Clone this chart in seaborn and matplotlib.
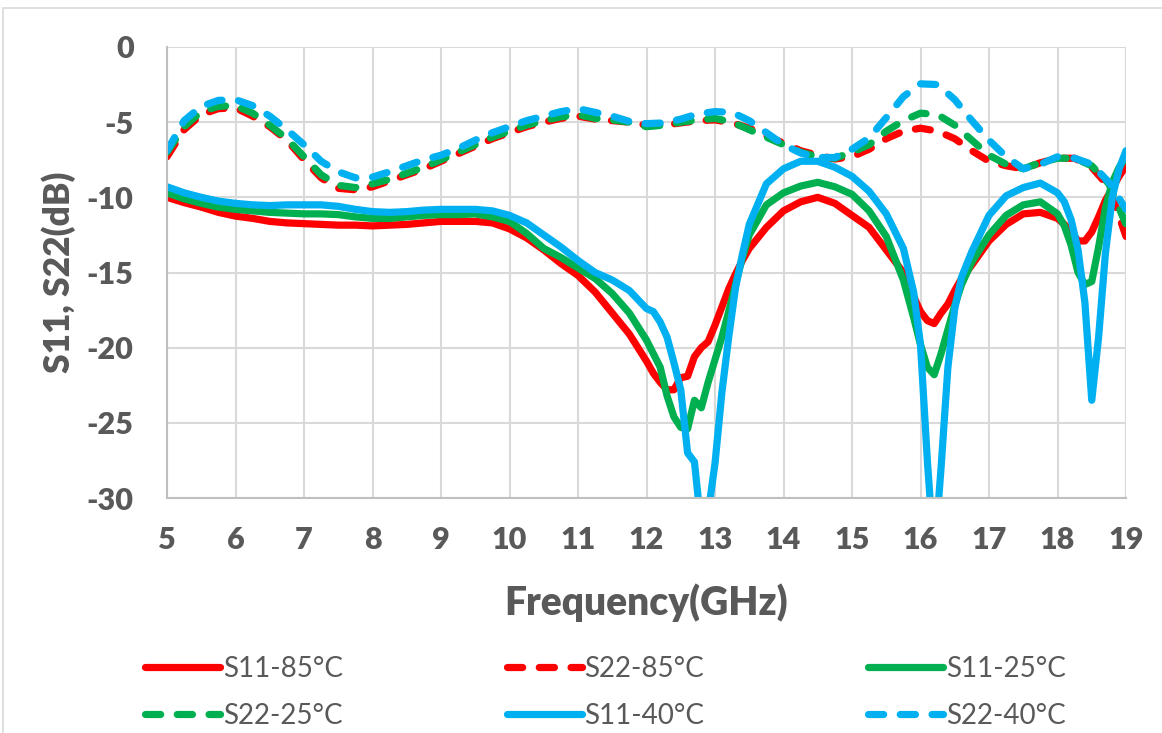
import numpy as np
import pandas as pd
import matplotlib
matplotlib.use("Agg")
import matplotlib.pyplot as plt
import seaborn as sns
from matplotlib import font_manager
from matplotlib.patches import Rectangle

# ---------------- data ----------------
f_s22 = [5.0, 5.25, 5.5, 5.75, 6.0, 6.25, 6.5, 6.75, 7.0, 7.25, 7.5, 7.75, 8.0, 8.25, 8.5, 8.75,
         9.0, 9.25, 9.5, 9.75, 10.0, 10.25, 10.5, 10.75, 11.0, 11.25, 11.5, 11.75, 12.0, 12.25,
         12.5, 12.75, 13.0, 13.25, 13.5, 13.75, 14.0, 14.25, 14.5, 14.75, 15.0, 15.25, 15.5,
         15.75, 16.0, 16.25, 16.5, 16.75, 17.0, 17.25, 17.5, 17.75, 18.0, 18.25, 18.5, 18.75, 19.0]

s22_85 = [-7.3, -5.5, -4.5, -4.1, -4.05, -4.6, -5.3, -6.2, -7.5, -8.7, -9.4, -9.5, -9.3, -8.9, -8.5, -8.1,
          -7.6, -7.1, -6.6, -6.1, -5.7, -5.3, -5.0, -4.75, -4.6, -4.8, -4.9, -5.0, -5.2, -5.2,
          -5.05, -4.9, -4.85, -5.05, -5.4, -5.9, -6.4, -6.9, -7.2, -7.45, -7.3, -6.8, -6.1,
          -5.6, -5.4, -5.6, -6.1, -6.9, -7.6, -7.9, -8.1, -7.7, -7.4, -7.4, -8.0, -9.3, -12.6]

s22_25 = [-7.0, -5.3, -4.3, -3.95, -3.9, -4.4, -5.2, -6.1, -7.3, -8.5, -9.2, -9.35, -9.1, -8.8, -8.4, -8.0,
          -7.5, -7.0, -6.5, -6.0, -5.6, -5.2, -4.9, -4.65, -4.5, -4.75, -4.85, -5.0, -5.3, -5.2,
          -5.0, -4.85, -4.75, -5.0, -5.5, -6.0, -6.5, -7.0, -7.3, -7.4, -7.0, -6.5, -5.6,
          -4.9, -4.4, -4.5, -5.2, -6.2, -7.2, -7.8, -8.1, -7.7, -7.4, -7.4, -7.9, -9.1, -11.8]

s22_m40 = [-6.9, -4.9, -3.95, -3.55, -3.5, -3.9, -4.6, -5.5, -6.5, -7.6, -8.3, -8.7, -8.65, -8.3, -7.9, -7.5,
           -7.2, -6.75, -6.2, -5.7, -5.3, -4.9, -4.6, -4.3, -4.1, -4.35, -4.6, -4.95, -5.1, -5.05,
           -4.8, -4.45, -4.3, -4.35, -4.9, -5.7, -6.5, -7.05, -7.35, -7.35, -6.8, -6.05, -4.7,
           -3.3, -2.45, -2.5, -3.5, -4.9, -6.2, -7.3, -8.1, -7.8, -7.3, -7.4, -7.8, -9.0, -10.8]

f_s11 = [5.0, 5.25, 5.5, 5.75, 6.0, 6.25, 6.5, 6.75, 7.0, 7.25, 7.5, 7.75, 8.0, 8.25, 8.5, 8.75,
         9.0, 9.25, 9.5, 9.75, 10.0, 10.25, 10.5, 10.75, 11.0, 11.25, 11.5, 11.75,
         12.0, 12.1, 12.2, 12.3, 12.4, 12.5, 12.6, 12.7, 12.8, 12.9, 13.0, 13.1, 13.2, 13.3, 13.4, 13.5,
         13.75, 14.0, 14.25, 14.5, 14.75, 15.0, 15.25, 15.5, 15.75,
         15.9, 16.0, 16.1, 16.2, 16.3, 16.4, 16.5, 16.6, 16.75,
         17.0, 17.25, 17.5, 17.75,
         18.0, 18.1, 18.2, 18.3, 18.4, 18.5, 18.6, 18.7, 18.8, 18.9, 19.0]

s11_85 = [-10.0, -10.35, -10.65, -11.0, -11.25, -11.4, -11.6, -11.7, -11.75, -11.8, -11.85, -11.85, -11.9, -11.85, -11.8, -11.7,
          -11.6, -11.6, -11.6, -11.7, -12.1, -12.7, -13.5, -14.4, -15.2, -16.3, -17.7, -19.1,
          -20.9, -21.7, -22.3, -22.8, -22.8, -22.0, -21.9, -20.6, -20.0, -19.6, -18.5, -17.3, -16.1, -15.1, -14.2, -13.4,
          -12.0, -10.9, -10.3, -10.0, -10.4, -11.2, -12.0, -13.5, -15.0,
          -16.6, -17.6, -18.2, -18.4, -17.7, -17.1, -16.2, -15.4, -14.5,
          -12.9, -11.8, -11.1, -11.0,
          -11.4, -11.8, -12.3, -12.9, -12.9, -12.3, -11.3, -10.2, -9.4, -8.6, -7.9]

s11_25 = [-9.7, -10.1, -10.4, -10.65, -10.8, -10.9, -11.0, -11.05, -11.1, -11.1, -11.15, -11.3, -11.4, -11.4, -11.3, -11.2,
          -11.15, -11.15, -11.1, -11.3, -11.6, -12.4, -13.4, -14.0, -14.7, -15.4, -16.4, -17.7,
          -19.5, -20.4, -21.3, -23.2, -24.6, -25.3, -25.4, -23.5, -24.0, -22.3, -20.8, -19.3, -17.6, -15.8, -14.0, -12.5,
          -10.5, -9.7, -9.25, -9.0, -9.3, -9.8, -10.9, -12.6, -15.5,
          -18.0, -19.8, -21.3, -21.8, -20.4, -18.8, -17.2, -15.8, -14.3,
          -12.5, -11.2, -10.5, -10.3,
          -11.1, -11.9, -13.2, -15.0, -15.8, -15.6, -13.3, -10.7, -9.0, -8.0, -7.3]

s11_m40 = [-9.3, -9.7, -10.0, -10.25, -10.4, -10.5, -10.55, -10.5, -10.5, -10.5, -10.6, -10.8, -10.95, -11.0, -10.95, -10.85,
           -10.8, -10.8, -10.8, -10.9, -11.2, -11.7, -12.5, -13.3, -14.2, -15.0, -15.5, -16.2,
           -17.4, -17.6, -18.3, -19.3, -21.0, -22.8, -27.0, -27.6, -32.0, -31.0, -27.7, -23.0, -19.3, -16.0, -13.8, -11.8,
           -9.1, -8.1, -7.6, -7.6, -8.0, -8.6, -9.6, -11.1, -13.4,
           -16.3, -19.8, -27.5, -34.0, -28.0, -21.3, -17.4, -15.3, -13.6,
           -11.2, -9.9, -9.35, -9.05,
           -9.7, -10.3, -11.5, -13.5, -17.0, -23.5, -19.3, -13.7, -10.0, -8.1, -6.9]

x_ticks = list(range(5, 20))
y_ticks = [0, -5, -10, -15, -20, -25, -30]

# ---------------- style ----------------
sns.set_theme(style="white")
names = {f.name for f in font_manager.fontManager.ttflist}
main_font = "Lato" if "Lato" in names else "DejaVu Sans"
plt.rcParams["font.family"] = [main_font, "DejaVu Sans"]

TXT = "#595959"
RED, GREEN, BLUE = "#FF0000", "#00B050", "#00B0F0"

fig = plt.figure(figsize=(11.62, 7.33), dpi=100)
ax = fig.add_axes([167 / 1162, 1 - 498 / 733, (1126 - 167) / 1162, (498 - 47) / 733])

series = [
    ("S11-85°C", f_s11, s11_85, RED, False),
    ("S22-85°C", f_s22, s22_85, RED, True),
    ("S11-25°C", f_s11, s11_25, GREEN, False),
    ("S22-25°C", f_s22, s22_25, GREEN, True),
    ("S11-40°C", f_s11, s11_m40, BLUE, False),
    ("S22-40°C", f_s22, s22_m40, BLUE, True),
]

handles = {}
for label, fx, vals, col, dashed in series:
    df = pd.DataFrame({"f": fx, "v": vals})
    n_before = len(ax.lines)
    sns.lineplot(data=df, x="f", y="v", ax=ax, color=col, lw=5.2, label=label,
                 estimator=None, sort=False, legend=False)
    ln = ax.lines[n_before]
    ln.set_solid_capstyle("round")
    ln.set_solid_joinstyle("round")
    if dashed:
        ln.set_linestyle((0, (2.1, 2.3)))
        ln.set_dash_capstyle("round")
    handles[label] = ln

W = "heavy"
ax.set_xlim(5, 19)
ax.set_ylim(-30, 0)
ax.set_xticks(x_ticks, [str(v) for v in x_ticks], fontsize=22, fontweight=W, color=TXT)
ax.set_yticks(y_ticks, [str(v) for v in y_ticks], fontsize=22, fontweight=W, color=TXT)
ax.grid(True, color="#D9D9D9", lw=1.5)
ax.set_axisbelow(True)
for s in ["top", "right"]:
    ax.spines[s].set_visible(False)
for s in ["left", "bottom"]:
    ax.spines[s].set_color("#BFBFBF")
    ax.spines[s].set_linewidth(1.5)
ax.tick_params(axis="both", length=0)
ax.tick_params(axis="y", pad=24)
ax.tick_params(axis="x", pad=20)

ax.set_xlabel("Frequency(GHz)", fontsize=28, fontweight=W, color=TXT)
ax.xaxis.set_label_coords(0.5, (498 - 603) / 451)
ax.xaxis.label.set_va("center")
ax.set_ylabel("S11, S22(dB)", fontsize=25.5, fontweight=W, color=TXT)
ax.yaxis.set_label_coords((59 - 167) / 959, 0.5)
ax.yaxis.label.set_va("center")
ax.yaxis.label.set_ha("center")

order = ["S11-85°C", "S22-25°C", "S22-85°C", "S11-40°C", "S11-25°C", "S22-40°C"]
leg = fig.legend([handles[k] for k in order], order, loc="upper left", ncol=3,
                 bbox_to_anchor=(145 / 1162, 1 - 656 / 733), frameon=False,
                 prop={"size": 20},
                 handlelength=2.7, handletextpad=0.1, columnspacing=5.9,
                 labelspacing=0.75, borderpad=0, borderaxespad=0)
for t in leg.get_texts():
    t.set_color(TXT)

# outer chart-area border (as in the source, partially cropped)
fig.patches.append(Rectangle((3 / 1162, -0.1), 1.2, 1 - 8 / 733 + 0.1, transform=fig.transFigure,
                             fill=False, edgecolor="#D9D9D9", lw=1.2))

fig.savefig("out.png", dpi=100)
